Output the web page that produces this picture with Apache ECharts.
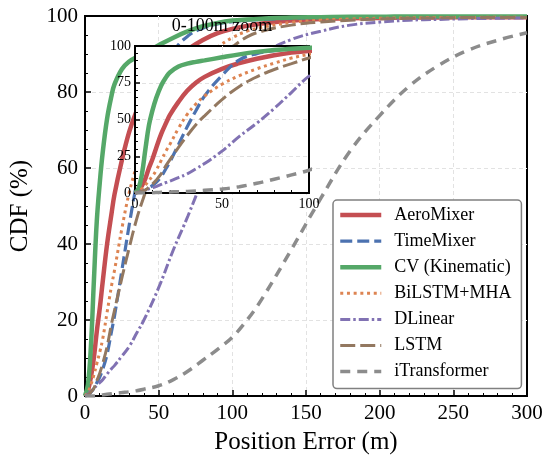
<!DOCTYPE html>
<html>
<head>
<meta charset="utf-8">
<script src="https://cdn.jsdelivr.net/npm/echarts@6/dist/echarts.min.js"></script>
<style>
html, body { margin: 0; padding: 0; background: #fff; }
#chart { width: 550px; height: 463px; }
</style>
</head>
<body>
<div id="chart"></div>
<script>
// position error grid (m) shared by every curve
var errX = [0, 2, 4, 6, 8, 10, 12, 15, 18, 20, 25, 30, 35, 40, 50, 60, 70, 80, 90, 100,
            110, 120, 140, 160, 180, 200, 220, 240, 260, 280, 300];

// CDF values (%)
var aeroMixer = [0, 1.5, 5, 10, 17, 23, 30, 40, 48, 53, 62, 69.5, 75, 79, 84.5, 88.3, 91.3, 93.7, 95.5, 96.6,
                 97.4, 98, 98.8, 99.2, 99.4, 99.5, 99.6, 99.6, 99.7, 99.7, 99.7];
var timeMixer = [0, 0.3, 1, 2, 3.5, 5, 7, 11, 17, 21, 33, 45, 56, 66, 80, 90.5, 94.8, 96.8, 97.9, 98.5,
                 98.9, 99.1, 99.4, 99.6, 99.7, 99.7, 99.8, 99.8, 99.8, 99.8, 99.8];
var cvKinematic = [0, 3, 13, 30, 46, 56, 64, 73, 79, 82, 86, 88, 89.2, 90.2, 92.3, 94.3, 96, 97.3, 98.2, 98.8,
                   99.1, 99.3, 99.6, 99.7, 99.8, 99.8, 99.9, 99.9, 99.9, 99.9, 99.9];
var bilstmMha = [0, 1, 3, 5.5, 8.5, 11.5, 15, 22, 29, 33, 44, 53.5, 60.5, 66, 74, 79.8, 84.5, 88.3, 91.8, 94.3,
                 96, 97, 98.3, 98.9, 99.2, 99.4, 99.5, 99.6, 99.6, 99.7, 99.7];
var dLinear = [0, 0.5, 1.2, 2, 2.8, 3.5, 4.3, 5.8, 7.2, 8, 10.5, 13, 16.5, 20, 28.5, 38.5, 47.5, 57.5, 68.5, 79.5,
               86.5, 90, 93.8, 96, 97.6, 98.4, 98.9, 99.1, 99.3, 99.4, 99.5];
var lstm = [0, 0.3, 1, 2, 4, 6, 8.5, 13, 19, 22.5, 31, 39, 46.5, 52.5, 63.5, 72.5, 79, 84, 88, 91.8,
            94.5, 96, 97.6, 98.4, 98.9, 99.2, 99.4, 99.5, 99.6, 99.6, 99.6];
var iTransformer = [0, 0, 0, 0, 0.05, 0.15, 0.3, 0.45, 0.6, 0.7, 0.9, 1.1, 1.4, 1.8, 2.7, 4.3, 6.6, 9.4, 12.3, 15.5,
                    20, 25.5, 38.5, 52, 64.5, 73.8, 81.5, 87, 91, 93.6, 95.6];

var mainTicksX = [0, 300, 50];
var mainTicksY = [0, 100, 20];
var zoomTicksX = [0, 100, 50];
var zoomTicksY = [0, 100, 25];

var FONT = '"Liberation Serif", "Times New Roman", serif';

var curves = [
    { name: 'AeroMixer',      values: aeroMixer,    color: '#C44E52', width: 4.5, dash: 'solid' },
    { name: 'TimeMixer',      values: timeMixer,    color: '#4C72B0', width: 3.2, dash: [12, 5] },
    { name: 'CV (Kinematic)', values: cvKinematic,  color: '#55A868', width: 4.5, dash: 'solid' },
    { name: 'BiLSTM+MHA',     values: bilstmMha,    color: '#DD8452', width: 3,   dash: [3, 3.7] },
    { name: 'DLinear',        values: dLinear,      color: '#8172B3', width: 3,   dash: [10, 3, 2.5, 3] },
    { name: 'LSTM',           values: lstm,         color: '#937860', width: 3,   dash: [15, 5] },
    { name: 'iTransformer',   values: iTransformer, color: '#8C8C8C', width: 3.5, dash: [10, 7] }
];

function makeAxis(ticks, grid, isX, big) {
    return {
        type: 'value',
        gridIndex: grid,
        min: ticks[0],
        max: ticks[1],
        interval: ticks[2],
        z: grid ? 11 : 0,
        axisLine: { show: true, onZero: false, lineStyle: { color: '#000', width: 2 } },
        axisTick: { show: true, inside: true, length: big ? 6 : 5, lineStyle: { color: '#000', width: 1.5 } },
        minorTick: { show: true, splitNumber: isX ? 5 : (big ? 4 : 5), length: 3, lineStyle: { color: '#000', width: 1 } },
        axisLabel: { color: '#000', fontFamily: FONT, fontSize: big ? 21 : 14, margin: big ? 7 : 4 },
        splitLine: {
            show: true, showMinLine: false, showMaxLine: false,
            lineStyle: { color: '#e2e2e2', width: 1, type: [4, 3] }
        }
    };
}

var xMain = makeAxis(mainTicksX, 0, true, true);
xMain.name = 'Position Error (m)';
xMain.nameLocation = 'middle';
xMain.nameGap = 34;
xMain.nameTextStyle = { fontFamily: FONT, fontSize: 25, color: '#000' };

var yMain = makeAxis(mainTicksY, 0, false, true);
yMain.name = 'CDF (%)';
yMain.nameLocation = 'middle';
yMain.nameGap = 52;
yMain.nameTextStyle = { fontFamily: FONT, fontSize: 25, color: '#000' };

var series = [];
[0, 1].forEach(function (g) {
    curves.forEach(function (c) {
        series.push({
            name: c.name,
            type: 'line',
            xAxisIndex: g,
            yAxisIndex: g,
            z: g ? 12 : 2,
            symbol: 'none',
            smooth: 0.4,
            clip: true,
            silent: true,
            lineStyle: { color: c.color, width: c.width, type: c.dash, cap: 'butt' },
            itemStyle: { color: c.color },
            data: errX.map(function (x, i) { return [x, c.values[i]]; })
        });
    });
});

var chart = echarts.init(document.getElementById('chart'));
chart.setOption({
    animation: false,
    backgroundColor: '#fff',
    grid: [
        { left: 81, right: 23, top: 16, bottom: 67, show: true, borderColor: '#000', borderWidth: 2, backgroundColor: '#fff', z: 0 },
        { left: 135, top: 46, width: 174, height: 147, show: true, borderColor: '#000', borderWidth: 2, backgroundColor: '#fff', z: 10 }
    ],
    xAxis: [xMain, makeAxis(zoomTicksX, 1, true, false)],
    yAxis: [yMain, makeAxis(zoomTicksY, 1, false, false)],
    legend: {
        orient: 'vertical',
        left: 333,
        top: 200,
        padding: [6, 10, 8, 5],
        itemWidth: 41,
        itemHeight: 14,
        itemGap: 8.1,
        backgroundColor: '#fff',
        borderColor: '#808080',
        borderWidth: 1.5,
        borderRadius: 4,
        selectedMode: false,
        itemStyle: { opacity: 0 },
        textStyle: { fontFamily: FONT, fontSize: 18, lineHeight: 18, color: '#000', padding: [0, 0, 0, 8] },
        data: curves.map(function (c) {
            return { name: c.name, lineStyle: { width: c.width } };
        })
    },
    graphic: [{
        type: 'text',
        x: 222,
        y: 26,
        z: 20,
        style: {
            text: '0-100m zoom',
            font: '18px ' + FONT,
            fill: '#000',
            align: 'center',
            verticalAlign: 'middle',
            textAlign: 'center',
            textVerticalAlign: 'middle'
        }
    }],
    series: series
});
</script>
</body>
</html>
